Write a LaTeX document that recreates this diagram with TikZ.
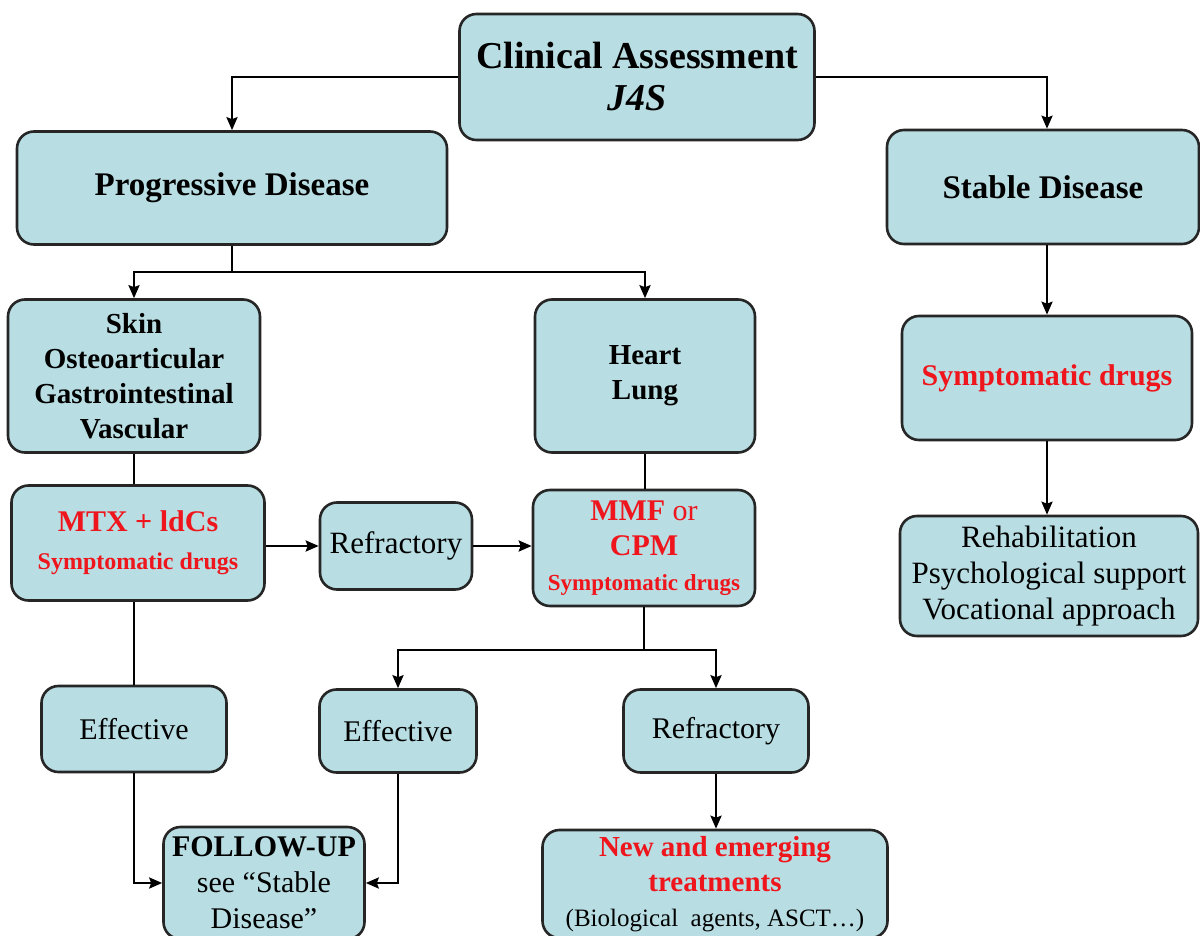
\documentclass[tikz,border=0pt]{standalone}
\usepackage{fontspec}
\setmainfont{Liberation Serif}
\usepackage{xcolor}
\usetikzlibrary{arrows.meta}
\definecolor{boxfill}{RGB}{184,222,227}
\definecolor{drugred}{RGB}{238,22,28}
\newcommand{\hl}[1]{\textcolor{drugred}{#1}}
\newcommand{\fsz}[1]{\fontsize{#1}{1.2\dimexpr#1pt\relax}\selectfont}
\tikzset{>={Stealth[length=13pt,width=11pt,inset=2pt]}}
\tikzset{
  box/.style={draw=black!85,line width=2.6pt,fill=boxfill,rounded corners=17pt,align=center,inner sep=0pt},
  wh/.style 2 args={minimum width=#1pt,minimum height=#2pt},
  link/.style={line width=2.4pt},
}

\begin{document}
\begin{tikzpicture}[x=1pt,y=-1pt]
\useasboundingbox (0,0) rectangle (1200,936);
\clip (0,0) rectangle (1200,936);
    \node[box,wh={355}{126},font=\fontsize{38}{42}\selectfont\bfseries] (assess) at (637,77) {Clinical Assessment\\\textit{J4S}};
    \node[box,wh={430}{113},font=\fsz{33}\bfseries] (prog) at (232,188) {Progressive Disease};
    \node[box,wh={312}{114},font=\fsz{33}\bfseries] (stable) at (1043,187) {Stable Disease};
    \node[box,wh={252}{153},font=\fontsize{29}{35}\selectfont\bfseries] (organs) at (134,376) {Skin\\Osteoarticular\\Gastrointestinal\\Vascular};
    \node[box,wh={220}{153},font=\fontsize{29}{35}\selectfont\bfseries] (cardio) at (645,376) {Heart\\Lung};
    \node[box,wh={290}{124},font=\fsz{30}\bfseries] (symp) at (1047,378) {\hl{Symptomatic drugs}};
    \node[box,wh={253}{115},font=\fontsize{30}{38}\selectfont\bfseries] (mtx) at (138,543) {\hl{MTX + ldCs}\\\fontsize{24}{28}\selectfont\hl{Symptomatic drugs}};
    \node[box,wh={152}{87},font=\fsz{31}] (refr) at (396,546) {Refractory};
    \node[box,wh={222}{116},font=\fontsize{30}{35}\selectfont] (mmf) at (644,548) {\hl{\textbf{MMF} or}\\\hl{\textbf{CPM}}\\\fontsize{23}{32}\selectfont\bfseries\hl{Symptomatic drugs}};
    \node[box,wh={298}{120},font=\fontsize{31}{36}\selectfont] (rehab) at (1049,576) {Rehabilitation\\Psychological support\\Vocational approach};
    \node[box,wh={185}{86},font=\fsz{30}] (eff1) at (134,729) {Effective};
    \node[box,wh={157}{83},font=\fsz{30}] (eff2) at (398,731) {Effective};
    \node[box,wh={185}{83},font=\fsz{30}] (refr2) at (716,731) {Refractory};
    \node[box,wh={201}{112},font=\fontsize{30}{36}\selectfont] (follow) at (264,883) {\textbf{FOLLOW-UP}\\see “Stable\\Disease”};
    \node[box,wh={345}{108},font=\fontsize{29}{35}\selectfont] (emerg) at (715,884) {\bfseries\hl{New and emerging}\\\bfseries\hl{treatments}\\\fontsize{25}{34}\selectfont(Biological\ \ agents, ASCT…)};
    \coordinate (fork1) at (232,272);
    \coordinate (fork2) at (644,650);
    \draw[link,->] (assess.west) -| (prog.north);
    \draw[link,->] (assess.east) -| (symp.north |- stable.north);
    \draw[link] (prog.south) -- (fork1);
    \draw[link,->] (fork1) -| (organs.north);
    \draw[link,->] (fork1) -| (cardio.north);
    \draw[link] (organs.south) -- (organs.south |- mtx.north);
    \draw[link] (cardio.south) -- (cardio.south |- mmf.north);
    \draw[link,->] (mtx.east |- refr.east) -- (refr.west);
    \draw[link,->] (refr.east) -- (refr.east -| mmf.west);
    \draw[link] (eff1.north |- mtx.south) -- (eff1.north);
    \draw[link] (mmf.south) -- (fork2);
    \draw[link,->] (fork2) -| (eff2.north);
    \draw[link,->] (fork2) -| (refr2.north);
    \draw[link,->] (eff1.south) |- (follow.west);
    \draw[link,->] (eff2.south) |- (follow.east);
    \draw[link,->] (refr2.south) -- (refr2.south |- emerg.north);
    \draw[link,->] (symp.north |- stable.south) -- (symp.north);
    \draw[link,->] (symp.south) -- (symp.south |- rehab.north);
    \end{tikzpicture}
\end{document}
